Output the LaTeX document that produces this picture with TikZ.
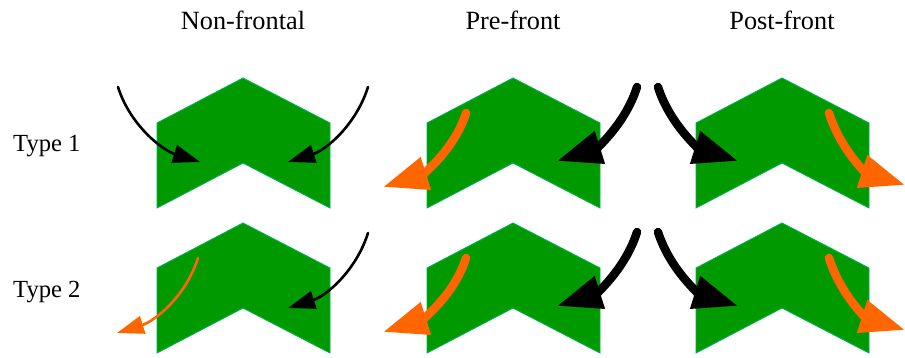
\documentclass[tikz,border=0pt]{standalone}
\usepackage{fontspec}
\setmainfont{Liberation Serif}
\usetikzlibrary{arrows.meta}

\definecolor{chevfill}{RGB}{0,153,0}
\definecolor{chevline}{RGB}{0,176,80}
\definecolor{flow}{RGB}{255,102,0}

\begin{document}
\begin{tikzpicture}[
    x=1pt, y=-1pt,
    chev/.style={
        fill=chevfill,
        draw=chevline,
        line width=0.9pt,
        line join=miter
    },
    colhead/.style={
        anchor=base,
        inner sep=0pt,
        font=\fontsize{26.3}{30}\selectfont
    },
    rowhead/.style={
        anchor=base west,
        inner sep=0pt,
        font=\fontsize{24.6}{28}\selectfont
    },
    thin/.style={-{Triangle[length=27pt,width=18pt]}, line width=2.6pt, line cap=round},
    thick/.style={-{Triangle[length=45pt,width=32pt]}, line width=8.5pt, line cap=round}
]
\useasboundingbox (0,0) rectangle (905,358);

% Column and row headings
\node[colhead] (nonfrontal) at (243,29.5) {Non-frontal};
\node[colhead] (prefront)   at (513,29.5) {Pre-front};
\node[colhead] (postfront)  at (782,29.5) {Post-front};
\node[rowhead] (typeone)    at (13,152) {Type 1};
\node[rowhead] (typetwo)    at (13,297) {Type 2};

% Chevrons (apex positions)
\foreach \cx in {243,513,782}
  \foreach \cy in {78,223}
    \draw[chev] (\cx,\cy) -- ++(-86,45) -- ++(0,85) -- ++(86,-45)
                -- ++(87,45) -- ++(0,-85) -- cycle;

% Non-frontal, Type 1
\draw[thin, black] (118,87) .. controls (130,125) and (162,150) .. (200,162);
\draw[thin, black] (368,87) .. controls (356,125) and (326,150) .. (288,162);

% Non-frontal, Type 2
\draw[thin, flow]  (198,258) .. controls (186,296) and (155,321) .. (117,333);
\draw[thin, black] (368,233) .. controls (356,271) and (326,296) .. (288,308);

% Pre-front and post-front, both types
\foreach \dy in {0,145} {
  \draw[thick, flow]  (466,113+\dy) .. controls (454,151+\dy) and (421,175+\dy) .. (383,187+\dy);
  \draw[thick, black] (637,87+\dy)  .. controls (625,125+\dy) and (595,149+\dy) .. (557,161+\dy);
  \draw[thick, black] (658,87+\dy)  .. controls (670,125+\dy) and (700,149+\dy) .. (738,161+\dy);
  \draw[thick, flow]  (829,113+\dy) .. controls (841,151+\dy) and (867,173+\dy) .. (905,185+\dy);
}

\end{tikzpicture}
\end{document}
